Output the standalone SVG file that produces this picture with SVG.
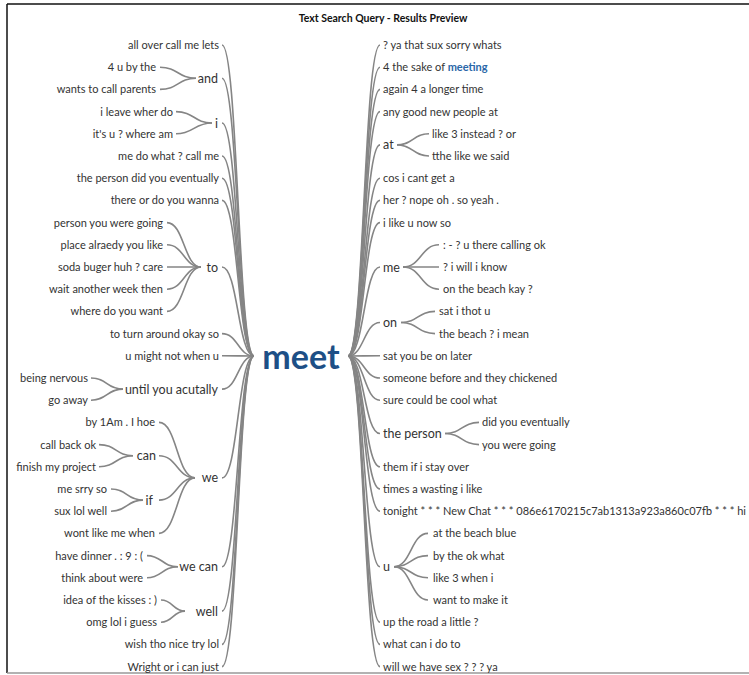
<svg xmlns="http://www.w3.org/2000/svg" width="749" height="675" viewBox="0 0 749 675">
<style>
text{font-family:Lato,"Open Sans","Liberation Sans",sans-serif;font-size:11px;fill:#333}
.l{text-anchor:end}
.t{font-weight:bold;font-size:10.5px;fill:#111;text-anchor:middle}
.m{font-weight:bold;font-size:34px;fill:#1d4f86;text-anchor:middle}
.k{font-size:12.5px}
.c path{fill:none;stroke:#858585;stroke-width:1.6}
</style>
<rect width="749" height="675" fill="#fff"/>
<line x1="7" y1="4" x2="749" y2="4" stroke="#111" stroke-width="1.5"/>
<line x1="7" y1="4" x2="7" y2="673" stroke="#111" stroke-width="1.5"/>
<line x1="7" y1="673" x2="749" y2="673" stroke="#999" stroke-width="1.5"/>
<text class="t" x="383" y="22">Text Search Query - Results Preview</text>
<g class="c" id="connectors">
<path d="M222,45 C238,45 238,356 254,356"/>
<path d="M222,78.3 C238,78.3 238,356 254,356"/>
<path d="M222,123 C238,123 238,356 254,356"/>
<path d="M222,156 C238,156 238,356 254,356"/>
<path d="M222,178.2 C238,178.2 238,356 254,356"/>
<path d="M222,200.4 C238,200.4 238,356 254,356"/>
<path d="M222,267 C238,267 238,356 254,356"/>
<path d="M222,333.6 C238,333.6 238,356 254,356"/>
<path d="M222,355.8 C238,355.8 238,356 254,356"/>
<path d="M222,389.1 C238,389.1 238,356 254,356"/>
<path d="M222,477.9 C238,477.9 238,356 254,356"/>
<path d="M222,566.7 C238,566.7 238,356 254,356"/>
<path d="M222,611.1 C238,611.1 238,356 254,356"/>
<path d="M222,644.4 C238,644.4 238,356 254,356"/>
<path d="M222,666.6 C238,666.6 238,356 254,356"/>
<path d="M380,45 C364,45 364,356 348,356"/>
<path d="M380,67.2 C364,67.2 364,356 348,356"/>
<path d="M380,89.4 C364,89.4 364,356 348,356"/>
<path d="M380,111.6 C364,111.6 364,356 348,356"/>
<path d="M380,144.9 C364,144.9 364,356 348,356"/>
<path d="M380,178.2 C364,178.2 364,356 348,356"/>
<path d="M380,200.4 C364,200.4 364,356 348,356"/>
<path d="M380,222.6 C364,222.6 364,356 348,356"/>
<path d="M380,267 C364,267 364,356 348,356"/>
<path d="M380,322.5 C364,322.5 364,356 348,356"/>
<path d="M380,355.8 C364,355.8 364,356 348,356"/>
<path d="M380,378 C364,378 364,356 348,356"/>
<path d="M380,400.2 C364,400.2 364,356 348,356"/>
<path d="M380,433.5 C364,433.5 364,356 348,356"/>
<path d="M380,466.8 C364,466.8 364,356 348,356"/>
<path d="M380,489 C364,489 364,356 348,356"/>
<path d="M380,511.2 C364,511.2 364,356 348,356"/>
<path d="M380,566.7 C364,566.7 364,356 348,356"/>
<path d="M380,622.2 C364,622.2 364,356 348,356"/>
<path d="M380,644.4 C364,644.4 364,356 348,356"/>
<path d="M380,666.6 C364,666.6 364,356 348,356"/>
<path d="M160,67.2 C178,67.2 178,78.3 196,78.3"/>
<path d="M160,89.4 C178,89.4 178,78.3 196,78.3"/>
<path d="M176,111.6 C194,111.6 194,123 212,123"/>
<path d="M176,133.8 C194,133.8 194,123 212,123"/>
<path d="M167,222.6 C184,222.6 184,267 201,267"/>
<path d="M167,244.8 C184,244.8 184,267 201,267"/>
<path d="M167,267 C184,267 184,267 201,267"/>
<path d="M167,289.2 C184,289.2 184,267 201,267"/>
<path d="M167,311.4 C184,311.4 184,267 201,267"/>
<path d="M91,378 C107,378 107,389.1 123,389.1"/>
<path d="M91,400.2 C107,400.2 107,389.1 123,389.1"/>
<path d="M159,422.4 C177,422.4 177,477.9 195,477.9"/>
<path d="M159,455.7 C177,455.7 177,477.9 195,477.9"/>
<path d="M159,500.1 C177,500.1 177,477.9 195,477.9"/>
<path d="M159,533.4 C177,533.4 177,477.9 195,477.9"/>
<path d="M99,444.6 C116,444.6 116,455.7 133,455.7"/>
<path d="M99,466.8 C116,466.8 116,455.7 133,455.7"/>
<path d="M111,489 C127,489 127,500.1 143,500.1"/>
<path d="M111,511.2 C127,511.2 127,500.1 143,500.1"/>
<path d="M147,555.6 C162,555.6 162,566.7 178,566.7"/>
<path d="M147,577.8 C162,577.8 162,566.7 178,566.7"/>
<path d="M161,600 C173,600 173,611.1 185,611.1"/>
<path d="M161,622.2 C173,622.2 173,611.1 185,611.1"/>
<path d="M397,144.9 C413,144.9 413,133.8 429,133.8"/>
<path d="M397,144.9 C413,144.9 413,156 429,156"/>
<path d="M403,267 C421,267 421,244.8 439,244.8"/>
<path d="M403,267 C421,267 421,267 439,267"/>
<path d="M403,267 C421,267 421,289.2 439,289.2"/>
<path d="M401,322.5 C418,322.5 418,311.4 435,311.4"/>
<path d="M401,322.5 C418,322.5 418,333.6 435,333.6"/>
<path d="M445,433.5 C462,433.5 462,422.4 479,422.4"/>
<path d="M445,433.5 C462,433.5 462,444.6 479,444.6"/>
<path d="M394,566.7 C411,566.7 411,533.4 428,533.4"/>
<path d="M394,566.7 C411,566.7 411,555.6 428,555.6"/>
<path d="M394,566.7 C411,566.7 411,577.8 428,577.8"/>
<path d="M394,566.7 C411,566.7 411,600 428,600"/>
</g>
<g id="meet"><text class="m" x="301" y="369">meet</text></g>
<g id="left">
<text class="l" x="219" y="49">all over call me lets</text>
<text class="l" x="156" y="71.2">4 u by the</text>
<text class="l k" x="218" y="82.8">and</text>
<text class="l" x="156" y="93.4">wants to call parents</text>
<text class="l" x="173" y="115.6">i leave wher do</text>
<text class="l k" x="218" y="127.5">i</text>
<text class="l" x="173" y="137.8">it's u ? where am</text>
<text class="l" x="219" y="160">me do what ? call me</text>
<text class="l" x="219" y="182.2">the person did you eventually</text>
<text class="l" x="219" y="204.4">there or do you wanna</text>
<text class="l" x="163" y="226.6">person you were going</text>
<text class="l" x="163" y="248.8">place alraedy you like</text>
<text class="l" x="163" y="271">soda buger huh ? care</text>
<text class="l k" x="218" y="271.5">to</text>
<text class="l" x="163" y="293.2">wait another week then</text>
<text class="l" x="163" y="315.4">where do you want</text>
<text class="l" x="219" y="337.6">to turn around okay so</text>
<text class="l" x="219" y="359.8">u might not when u</text>
<text class="l" x="88" y="382">being nervous</text>
<text class="l k" x="218" y="393.6">until you acutally</text>
<text class="l" x="88" y="404.2">go away</text>
<text class="l" x="155" y="426.4">by 1Am . I hoe</text>
<text class="l" x="96" y="448.6">call back ok</text>
<text class="l k" x="156" y="460.2">can</text>
<text class="l" x="96" y="470.8">finish my project</text>
<text class="l k" x="218" y="482.4">we</text>
<text class="l" x="107" y="493">me srry so</text>
<text class="l k" x="153" y="504.6">if</text>
<text class="l" x="107" y="515.2">sux lol well</text>
<text class="l" x="155" y="537.4">wont like me when</text>
<text class="l" x="143" y="559.6">have dinner . : 9 : (</text>
<text class="l k" x="218" y="571.2">we can</text>
<text class="l" x="143" y="581.8">think about were</text>
<text class="l" x="157" y="604">idea of the kisses : )</text>
<text class="l k" x="218" y="615.6">well</text>
<text class="l" x="157" y="626.2">omg lol i guess</text>
<text class="l" x="219" y="648.4">wish tho nice try lol</text>
<text class="l" x="219" y="670.6">Wright or i can just</text>
</g>
<g id="right">
<text x="383" y="49">? ya that sux sorry whats</text>
<text x="383" y="71.2">4 the sake of <tspan font-weight="bold" fill="#2a67a8">meeting</tspan></text>
<text x="383" y="93.4">again 4 a longer time</text>
<text x="383" y="115.6">any good new people at</text>
<text x="432" y="137.8">like 3 instead ? or</text>
<text class="k" x="383" y="149.4">at</text>
<text x="432" y="160">tthe like we said</text>
<text x="383" y="182.2">cos i cant get a</text>
<text x="383" y="204.4">her ? nope oh . so yeah .</text>
<text x="383" y="226.6">i like u now so</text>
<text x="443" y="248.8">: - ? u there calling ok</text>
<text class="k" x="383" y="271.5">me</text>
<text x="443" y="271">? i will i know</text>
<text x="443" y="293.2">on the beach kay ?</text>
<text x="439" y="315.4">sat i thot u</text>
<text class="k" x="383" y="327">on</text>
<text x="439" y="337.6">the beach ? i mean</text>
<text x="383" y="359.8">sat you be on later</text>
<text x="383" y="382">someone before and they chickened</text>
<text x="383" y="404.2">sure could be cool what</text>
<text x="482" y="426.4">did you eventually</text>
<text class="k" x="383" y="438">the person</text>
<text x="482" y="448.6">you were going</text>
<text x="383" y="470.8">them if i stay over</text>
<text x="383" y="493">times a wasting i like</text>
<text x="383" y="515.2">tonight * * * New Chat * * * 086e6170215c7ab1313a923a860c07fb * * * hi</text>
<text x="433" y="537.4">at the beach blue</text>
<text x="433" y="559.6">by the ok what</text>
<text class="k" x="383" y="571.2">u</text>
<text x="433" y="581.8">like 3 when i</text>
<text x="433" y="604">want to make it</text>
<text x="383" y="626.2">up the road a little ?</text>
<text x="383" y="648.4">what can i do to</text>
<text x="383" y="670.6">will we have sex ? ? ? ya</text>
</g>
</svg>
